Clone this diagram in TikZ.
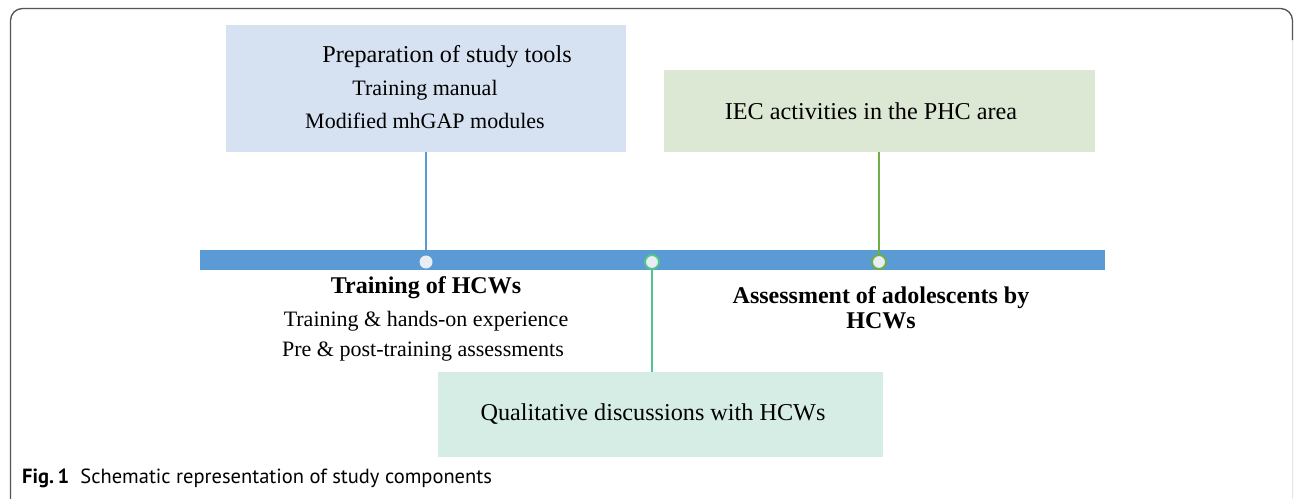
\documentclass[tikz,border=0pt]{standalone}
\usepackage{fontspec}
\setmainfont{Liberation Serif}
\newfontfamily\capfont{PT Sans}
\begin{document}
\begin{tikzpicture}[x=1pt,y=-1pt,
  txt/.style={font=\fontsize{22}{25}\selectfont,inner sep=0pt},
  head/.style={font=\fontsize{24.2}{27}\selectfont,inner sep=0pt},
  bhead/.style={font=\fontsize{24}{25}\selectfont\bfseries,inner sep=0pt,align=center},
  dot/.style={circle,minimum size=13pt,inner sep=0pt,fill=dotfill}]
\definecolor{barblue}{HTML}{5B9BD5}
\definecolor{boxblue}{HTML}{D6E1F1}
\definecolor{boxgreen}{HTML}{DCE8D4}
\definecolor{boxmint}{HTML}{D5EDE4}
\definecolor{linegreen}{HTML}{70AD47}
\definecolor{linemint}{HTML}{52C48C}
\definecolor{dotfill}{HTML}{E9EEF6}
\definecolor{framegray}{HTML}{555555}
\useasboundingbox (0,0) rectangle (1295,498);
% outer frame: dark top and left edges, faint right edge
\begin{scope}
\clip (0,0) rectangle (1295,498);
\draw[gray!20,line width=1pt,rounded corners=12pt] (10.5,8.5) rectangle (1292.5,512);
\draw[framegray,line width=1.3pt,rounded corners=12pt] (10.5,512) -- (10.5,8.5) -- (1292.5,8.5) -- (1292.5,40);
\end{scope}
% stage boxes
\fill[boxblue] (226,25) rectangle (626,152);
\coordinate (b1) at (426,152);
\fill[boxgreen] (664,70) rectangle (1095,152);
\coordinate (b2) at (879,152);
\fill[boxmint] (438,372) rectangle (883,457);
\coordinate (b3) at (652,372);
\node[head] (t1) at (447,57) {Preparation of study tools};
\node[txt] (t1a) at (425,90) {Training manual};
\node[txt] (t1b) at (425,121) {Modified mhGAP modules};
\node[head] (t2) at (871,111) {IEC activities in the PHC area};
\node[head] (t3) at (653,414) {Qualitative discussions with HCWs};
% timeline
\fill[barblue] (200,250) rectangle (1105,270);
\node[dot] (d1) at (426,262) {};
\node[dot,draw=linemint,line width=2pt,minimum size=14pt] (d2) at (652,262) {};
\node[dot,draw=linegreen,line width=2pt,minimum size=14pt] (d3) at (879,262) {};
% connectors
\draw[barblue,line width=1.5pt] (b1) -- (d1);
\draw[linegreen,line width=1.5pt] (b2) -- (d3);
\draw[linemint,line width=1.5pt] (d2) -- (b3);
% labels under the timeline
\node[bhead] (l1) at (426,288) {Training of HCWs};
\node[txt] (l1a) at (426,321) {Training \& hands-on experience};
\node[txt] (l1b) at (423,352) {Pre \& post-training assessments};
\node[bhead,anchor=north] (l3) at (881,286) {Assessment of adolescents by\\HCWs};
% caption
\node[anchor=west,inner sep=0pt,font=\capfont\fontsize{20.5}{22}\selectfont] (cap) at (22,478) {\textbf{Fig.\,1}\hspace{0.55em}Schematic representation of study components};
\end{tikzpicture}
\end{document}
